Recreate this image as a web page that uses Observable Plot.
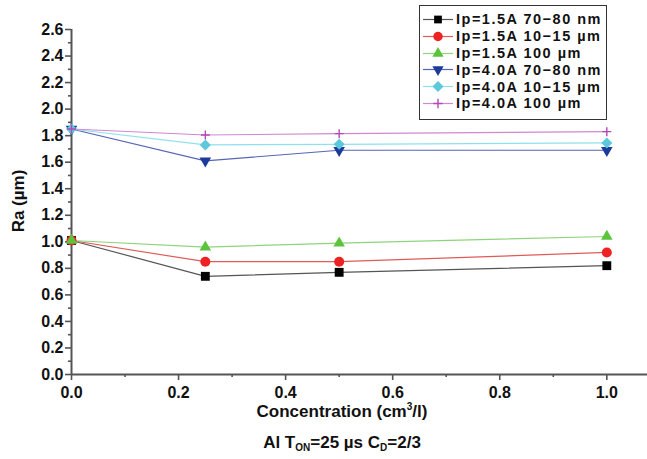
<!DOCTYPE html>
<html>
<head>
<meta charset="utf-8">
<script src="https://cdn.jsdelivr.net/npm/d3@7"></script>
<script src="https://cdn.jsdelivr.net/npm/@observablehq/plot@0.6"></script>
<style>
  html, body { margin: 0; padding: 0; background: #fff; }
  body { width: 647px; height: 459px; position: relative; overflow: hidden;
         font-family: "Liberation Sans", Arial, sans-serif; font-weight: bold; color: #111; }
  #legend { position: absolute; left: 419px; top: 5px; width: 188px; height: 115px;
            border: 1px solid #333; background: #fff; box-sizing: border-box; padding-top: 5px; }
  .row { display: flex; align-items: center; height: 16.8px; font-size: 14.5px; line-height: 16px;
         letter-spacing: 1.5px; white-space: nowrap; }
  .row svg { margin-left: 3px; margin-right: 3px; }
  #below { position: absolute; left: 0; top: 396px; width: 684px; text-align: center; font-size: 17px; }
  #below div { height: 31px; line-height: 31px; }
  #ylabel { position: absolute; left: 19px; top: 201px; font-size: 17px; white-space: nowrap;
            transform: translate(-50%, -50%) rotate(-90deg); }
  sub { font-size: 10px; vertical-align: -3px; line-height: 0; }
  sup { font-size: 10px; vertical-align: 7px; line-height: 0; }
</style>
</head>
<body>
<div id="chart"></div>
<div id="ylabel">Ra (µm)</div>
<div id="legend"></div>
<div id="below">
  <div>Concentration (cm<sup>3</sup>/l)</div>
  <div>Al T<sub>ON</sub>=25 µs C<sub>D</sub>=2/3</div>
</div>
<script>
const concentration = [0, 0.25, 0.5, 1.0];
const seriesNames = ["Ip=1.5A 70−80 nm", "Ip=1.5A 10−15 µm", "Ip=1.5A 100 µm",
                     "Ip=4.0A 70−80 nm", "Ip=4.0A 10−15 µm", "Ip=4.0A 100 µm"];
const ip15_7080nm = [1.01, 0.74, 0.77, 0.82];
const ip15_1015um = [1.01, 0.85, 0.85, 0.92];
const ip15_100um  = [1.01, 0.96, 0.99, 1.04];
const ip40_7080nm = [1.85, 1.61, 1.69, 1.69];
const ip40_1015um = [1.85, 1.73, 1.735, 1.745];
const ip40_100um  = [1.85, 1.805, 1.815, 1.83];
const yTicks = [0, 0.2, 0.4, 0.6, 0.8, 1.0, 1.2, 1.4, 1.6, 1.8, 2.0, 2.2, 2.4, 2.6];
const xTicks = [0, 0.2, 0.4, 0.6, 0.8, 1.0];

const values = [ip15_7080nm, ip15_1015um, ip15_100um, ip40_7080nm, ip40_1015um, ip40_100um];
const markerColors = ["#000000", "#ee2222", "#5cc43c", "#1c3a99", "#5cc8dc", "#b448b4"];
const lineColors = ["#555555", "#e05a5a", "#8fd47a", "#5566b8", "#8fe0ec", "#d088d0"];
const symbols = ["square", "circle", "triangle", "triangle", "diamond2", "plus"];
const rotations = [0, 0, 0, 180, 0, 0];
const radii = [5, 5, 4.3, 4.3, 5, 3];

const data = [];
values.forEach((vals, i) => vals.forEach((v, j) => data.push({
  series: seriesNames[i], idx: i, x: concentration[j], y: v
})));

const minorY = d3.range(0.1, 2.6, 0.2);
const minorX = [0.1, 0.3, 0.5, 0.7, 0.9];

const marks = [
  Plot.axisY(yTicks, {tickSize: 6, tickPadding: 2, tickFormat: d3.format(".1f"),
    fontSize: 16, fontWeight: "bold", stroke: "#555", strokeWidth: 1.6, label: null}),
  Plot.axisY(minorY, {tickSize: 3, text: null, stroke: "#555", strokeWidth: 1.6, label: null}),
  Plot.axisX(xTicks, {tickSize: 6, tickPadding: 6, tickFormat: d3.format(".1f"),
    fontSize: 16, fontWeight: "bold", stroke: "#555", strokeWidth: 1.6, label: null}),
  Plot.axisX(minorX, {tickSize: 3, text: null, stroke: "#555", strokeWidth: 1.6, label: null}),
  Plot.ruleY([0], {stroke: "#555", strokeWidth: 2}),
  Plot.ruleX([0], {stroke: "#555", strokeWidth: 2}),
];
values.forEach((vals, i) => {
  const d = data.filter(e => e.idx === i);
  marks.push(Plot.line(d, {x: "x", y: "y", stroke: lineColors[i], strokeWidth: 1.2}));
});
values.forEach((vals, i) => {
  const d = data.filter(e => e.idx === i);
  const isStroke = symbols[i] === "plus";
  marks.push(Plot.dot(d, {x: "x", y: "y", symbol: () => symbols[i], r: radii[i], rotate: rotations[i],
    fill: isStroke ? "none" : markerColors[i], stroke: isStroke ? markerColors[i] : "none", strokeWidth: 1.4}));
});

const chart = Plot.plot({
  width: 647, height: 402,
  marginLeft: 71, marginRight: 0, marginTop: 29, marginBottom: 28,
  x: {domain: [0, 1.076]},
  y: {domain: [0, 2.6]},
  symbol: {type: "identity"},
  style: {fontFamily: "Liberation Sans, Arial, sans-serif", fontWeight: "bold", color: "#111", background: "#fff"},
  marks
});
document.getElementById("chart").appendChild(chart);

// legend
const legend = document.getElementById("legend");
const symMap = {square: d3.symbolSquare, circle: d3.symbolCircle, triangle: d3.symbolTriangle,
                diamond2: d3.symbolSquare, plus: d3.symbolPlus};
const legendSize = [60, 70, 55, 55, 60, 30];
seriesNames.forEach((name, i) => {
  const row = document.createElement("div");
  row.className = "row";
  const s = d3.create("svg").attr("width", 30).attr("height", 17);
  s.append("line").attr("x1", 0).attr("x2", 30).attr("y1", 8.5).attr("y2", 8.5)
    .attr("stroke", lineColors[i]).attr("stroke-width", 1.2);
  const isStroke = symbols[i] === "plus";
  s.append("path").attr("d", d3.symbol(symMap[symbols[i]], legendSize[i])())
    .attr("transform", `translate(15,8.5) rotate(${rotations[i] + (symbols[i] === "diamond2" ? 45 : 0)})`)
    .attr("fill", isStroke ? "none" : markerColors[i])
    .attr("stroke", isStroke ? markerColors[i] : "none").attr("stroke-width", 1.4);
  row.appendChild(s.node());
  const t = document.createElement("span");
  t.textContent = name;
  row.appendChild(t);
  legend.appendChild(row);
});
</script>
</body>
</html>
